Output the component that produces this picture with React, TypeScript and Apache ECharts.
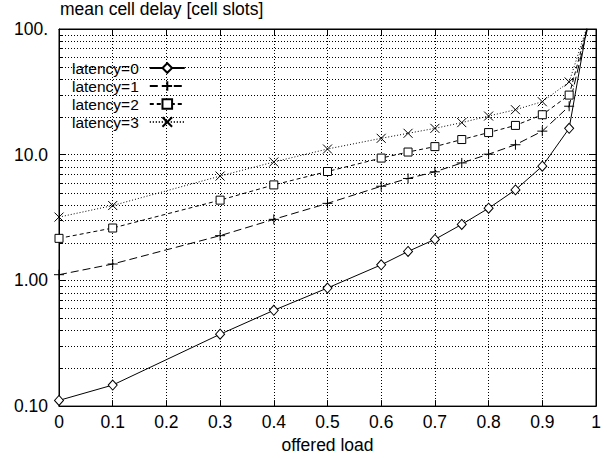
import React, { useEffect, useRef } from "react";
import * as echarts from "echarts";

const loads = [0, 0.1, 0.3, 0.4, 0.5, 0.6, 0.65, 0.7, 0.75, 0.8, 0.85, 0.9, 0.95, 0.99];
const latency0 = [0.111, 0.147, 0.373, 0.578, 0.87, 1.33, 1.7, 2.12, 2.79, 3.75, 5.25, 8.1, 16.2, 150];
const latency1 = [1.11, 1.35, 2.27, 3.06, 4.1, 5.61, 6.47, 7.31, 8.6, 10.1, 12.0, 15.4, 24.3, 128];
const latency2 = [2.16, 2.61, 4.35, 5.75, 7.35, 9.4, 10.5, 11.6, 13.2, 15.0, 17.1, 20.8, 29.8, 129];
const latency3 = [3.19, 3.94, 6.76, 8.75, 11.1, 13.5, 14.8, 16.2, 18.0, 20.3, 22.8, 26.4, 37.9, 127];
const seriesNames = ["latency=0", "latency=1", "latency=2", "latency=3"];
const minorTicks = [
  0.2, 0.3, 0.4, 0.5, 0.6, 0.7, 0.8, 0.9,
  2, 3, 4, 5, 6, 7, 8, 9,
  20, 30, 40, 50, 60, 70, 80, 90,
];
const yTickLabels: Record<string, string> = { "0.1": "0.10", "1": "1.00", "10": "10.0", "100": "100." };

const FONT = "'Liberation Sans', Arial, sans-serif";
const FS = 17.5;
const LFS = 15.5;

const DIAMOND = "path://M5,0L10,5L5,10L0,5Z";
const SQUARE = "path://M0,0L10,0L10,10L0,10Z";
const PLUS = "path://M0,5L10,5M5,0L5,10";
const CROSS = "path://M0,0L10,10M10,0L0,10";

function mkData(vals: number[]) {
  return loads.map((x, i) =>
    i === loads.length - 1 ? { value: [x, vals[i]], symbol: "none" } : [x, vals[i]]
  );
}

export default function App() {
  const ref = useRef<HTMLDivElement>(null);
  useEffect(() => {
    if (!ref.current) return;
    const chart = echarts.init(ref.current, null, { renderer: "svg" });
    const styles = [
      { symbol: DIAMOND, symbolSize: [9, 10], dash: "solid" as any },
      { symbol: PLUS, symbolSize: 10, dash: [8, 4] },
      { symbol: SQUARE, symbolSize: 8, dash: [4, 3] },
      { symbol: CROSS, symbolSize: 9, dash: [1, 2] },
    ];
    const vals = [latency0, latency1, latency2, latency3];
    const lineSeries = seriesNames.map((name, i) => ({
      name,
      type: "line",
      xAxisIndex: 0,
      yAxisIndex: 0,
      data: mkData(vals[i]),
      symbol: styles[i].symbol,
      symbolSize: styles[i].symbolSize,
      showAllSymbol: true,
      clip: true,
      z: 5,
      lineStyle: { color: "#000", width: 1, type: styles[i].dash },
      itemStyle: { color: "#fff", borderColor: "#000", borderWidth: 1 },
      emphasis: { disabled: true },
    }));
    const gridSeries = {
      type: "custom",
      xAxisIndex: 0,
      yAxisIndex: 0,
      silent: true,
      z: 1,
      data: minorTicks.map((v) => [0, v]),
      renderItem: (params: any, api: any) => {
        const v = api.value(1);
        const p0 = api.coord([0, v]);
        const p1 = api.coord([1, v]);
        const y = Math.round(p0[1]) + 0.5;
        return {
          type: "group",
          children: [
            {
              type: "line",
              shape: { x1: p0[0], y1: y, x2: p1[0], y2: y },
              style: { stroke: "#000", lineWidth: 1, lineDash: [1, 2] },
            },
            {
              type: "line",
              shape: { x1: p0[0], y1: y, x2: p0[0] + 4, y2: y },
              style: { stroke: "#000", lineWidth: 1 },
            },
            {
              type: "line",
              shape: { x1: p1[0] - 4, y1: y, x2: p1[0], y2: y },
              style: { stroke: "#000", lineWidth: 1 },
            },
          ],
        };
      },
    };
    const xBase = {
      type: "value",
      min: 0,
      max: 1,
      interval: 0.1,
      axisLine: { show: true, onZero: false, lineStyle: { color: "#000", width: 1 } },
      axisTick: { show: true, inside: true, length: 6, lineStyle: { color: "#000" } },
    };
    const yBase = {
      type: "log",
      logBase: 10,
      min: 0.1,
      max: 100,
      axisLine: { show: true, onZero: false, lineStyle: { color: "#000", width: 1 } },
      axisTick: { show: true, inside: true, length: 7, lineStyle: { color: "#000" } },
    };
    chart.setOption({
      animation: false,
      textStyle: { fontFamily: FONT },
      title: {
        text: "mean cell delay [cell slots]",
        left: 60,
        top: 0,
        padding: 0,
        textStyle: { fontFamily: FONT, fontSize: FS, fontWeight: "normal", color: "#000" },
      },
      legend: {
        data: seriesNames,
        orient: "vertical",
        align: "right",
        left: 72,
        top: 59,
        padding: 0,
        itemGap: 0,
        itemWidth: 35,
        itemHeight: 12,
        textStyle: { fontFamily: FONT, fontSize: LFS, color: "#000", lineHeight: 18, padding: [0, 6, 0, 0] },
      },
      grid: { left: 59, right: 11, top: 29, bottom: 47, show: true, borderColor: "#000", borderWidth: 1, backgroundColor: "transparent" },
      xAxis: [
        {
          ...xBase,
          position: "bottom",
          name: "offered load",
          nameLocation: "middle",
          nameGap: 26,
          nameTextStyle: { fontFamily: FONT, fontSize: FS, color: "#000" },
          axisLabel: {
            show: true,
            margin: 7,
            fontFamily: FONT,
            fontSize: FS,
            color: "#000",
            formatter: (v: number) => (v === 0 ? "0" : v === 1 ? "1" : v.toFixed(1)),
          },
          splitLine: { show: true, lineStyle: { color: "#000", width: 1, type: [1, 2] } },
        },
        { ...xBase, position: "top", axisLabel: { show: false }, splitLine: { show: false } },
      ],
      yAxis: [
        {
          ...yBase,
          position: "left",
          axisLabel: {
            show: true,
            margin: 11,
            fontFamily: FONT,
            fontSize: FS,
            color: "#000",
            formatter: (v: number) => yTickLabels[String(Number(v.toPrecision(3)))] ?? String(v),
          },
          splitLine: { show: true, lineStyle: { color: "#000", width: 1, type: [1, 2] } },
        },
        { ...yBase, position: "right", axisLabel: { show: false }, splitLine: { show: false } },
      ],
      series: [gridSeries, ...lineSeries],
    });
    return () => chart.dispose();
  }, []);
  return (
    <div
      ref={ref}
      style={{ position: "fixed", left: 0, top: 0, width: 607, height: 459, background: "#fff" }}
    />
  );
}
